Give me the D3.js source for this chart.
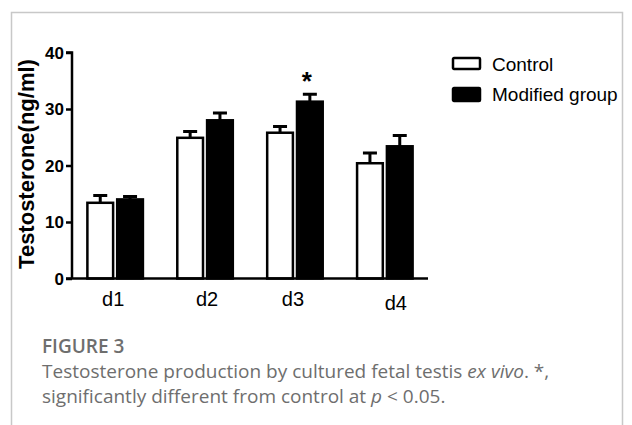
<!DOCTYPE html>
<html><head><meta charset="utf-8">
<script src="https://cdn.jsdelivr.net/npm/d3@7"></script>
<style>body{margin:0;background:#fff;} svg{display:block;}</style>
</head><body>
<svg id="c" width="632" height="425"></svg>
<script>
const categories = ["d1", "d2", "d3", "d4"];
const seriesNames = ["Control", "Modified group"];
const controlValues = [13.4, 24.9, 25.8, 20.4];
const controlErrors = [1.3, 1.1, 1.1, 1.8];
const modifiedValues = [14.0, 28.0, 31.3, 23.4];
const modifiedErrors = [0.5, 1.3, 1.3, 1.9];
const significant = [false, false, true, false];
const yTicks = [0, 10, 20, 30, 40];

const svg = d3.select("#c");
// frame
svg.append("path").attr("d", "M11.5,425 V12.5 H622.5 V425")
  .attr("fill", "none").attr("stroke", "#c8c8c8").attr("stroke-width", 1.5);

const y = d3.scaleLinear().domain([0, 40]).range([278.5, 52.5]);
const x0 = d3.scaleBand().domain(categories).range([72, 428]).paddingInner(0.36).paddingOuter(0.16);
const x1 = d3.scaleBand().domain(seriesNames).range([0, x0.bandwidth()]).paddingInner(0.07);

const data = categories.map((c, i) => ({
  cat: c, sig: significant[i],
  bars: [
    {s: seriesNames[0], v: controlValues[i], e: controlErrors[i]},
    {s: seriesNames[1], v: modifiedValues[i], e: modifiedErrors[i]}
  ]
}));

const fills = {"Control": "#fff", "Modified group": "#000"};

const g = svg.append("g");
const groups = g.selectAll("g.grp").data(data).join("g")
  .attr("transform", d => `translate(${x0(d.cat)},0)`);

// error bars (upward only)
groups.selectAll("path.err").data(d => d.bars).join("path")
  .attr("d", b => {
    const cx = x1(b.s) + x1.bandwidth() / 2;
    const yt = y(b.v + b.e);
    return `M${cx},${y(b.v)} V${yt} M${cx - 7},${yt} H${cx + 7}`;
  })
  .attr("stroke", "#000").attr("stroke-width", 3).attr("fill", "none");

groups.selectAll("rect").data(d => d.bars).join("rect")
  .attr("x", b => x1(b.s) + 1)
  .attr("width", x1.bandwidth() - 2)
  .attr("y", b => y(b.v))
  .attr("height", b => y(0) - y(b.v))
  .attr("fill", b => fills[b.s])
  .attr("stroke", "#000").attr("stroke-width", 2.5);

// significance star
groups.filter(d => d.sig).append("text")
  .attr("x", d => x1(seriesNames[1]) + x1.bandwidth() / 2 - 3)
  .attr("y", d => y(d.bars[1].v + d.bars[1].e) - 4)
  .attr("text-anchor", "middle")
  .attr("font-family", "Liberation Sans, Arial, sans-serif")
  .attr("font-weight", "bold").attr("font-size", 26)
  .text("*");

// y axis
const yAxis = d3.axisLeft(y).tickValues(yTicks).tickSize(6).tickPadding(2).tickFormat(d3.format("d"));
const ya = svg.append("g").attr("transform", "translate(72,0)").call(yAxis);
ya.select(".domain").attr("stroke-width", 2.5).attr("d", `M-6,${y(40)}H0V${y(0)}`);
ya.selectAll(".tick line").attr("stroke-width", 2.5);
ya.selectAll(".tick text").attr("font-family", "Liberation Sans, Arial, sans-serif")
  .attr("font-weight", "bold").attr("font-size", 17).attr("fill", "#000").attr("dy", "0.35em");

// x axis line
svg.append("line").attr("x1", 66).attr("x2", 428).attr("y1", y(0)).attr("y2", y(0))
  .attr("stroke", "#000").attr("stroke-width", 2.5);

// x category labels (slight hand-placed offsets as in original)
const labelShift = [-2, 2, -2, 11];
const labelDy = [0, 0, 0, 4];
svg.selectAll("text.xl").data(categories).join("text").attr("class", "xl")
  .attr("x", (d, i) => x0(d) + x0.bandwidth() / 2 + labelShift[i])
  .attr("y", (d, i) => 306 + labelDy[i])
  .attr("text-anchor", "middle")
  .attr("font-family", "Liberation Sans, Arial, sans-serif").attr("font-size", 20)
  .text(d => d);

// y title
svg.append("text")
  .attr("transform", "translate(34,164) rotate(-90)")
  .attr("text-anchor", "middle")
  .attr("font-family", "Liberation Sans, Arial, sans-serif")
  .attr("font-weight", "bold").attr("font-size", 22)
  .text("Testosterone(ng/ml)");

// legend
const leg = svg.append("g").attr("transform", "translate(452,57)");
const li = leg.selectAll("g").data(seriesNames).join("g")
  .attr("transform", (d, i) => `translate(0,${i * 30})`);
li.append("rect").attr("x", 1).attr("y", 1).attr("width", 27).attr("height", 11)
  .attr("rx", 1)
  .attr("fill", d => fills[d]).attr("stroke", "#000").attr("stroke-width", 2.5);
li.filter((d, i) => i === 1).select("rect").attr("height", 13);
li.append("text").attr("x", 40).attr("y", 7).attr("dy", "0.35em")
  .attr("font-family", "Liberation Sans, Arial, sans-serif").attr("font-size", 19)
  .text(d => d);

// caption
const cap = svg.append("g").attr("font-family", "Open Sans, Lato, sans-serif").attr("fill", "#6e6e6e");
cap.append("text").attr("x", 42).attr("y", 353).attr("font-size", 19).attr("font-weight", "600")
  .text("FIGURE 3");
const l1 = cap.append("text").attr("x", 42).attr("y", 378).attr("font-size", 19);
l1.append("tspan").text("Testosterone production by cultured fetal testis ");
l1.append("tspan").attr("font-style", "italic").text("ex vivo");
l1.append("tspan").text(". *,");
const l2 = cap.append("text").attr("x", 42).attr("y", 403).attr("font-size", 19);
l2.append("tspan").text("significantly different from control at ");
l2.append("tspan").attr("font-style", "italic").text("p");
l2.append("tspan").text(" < 0.05.");
</script>
</body></html>
